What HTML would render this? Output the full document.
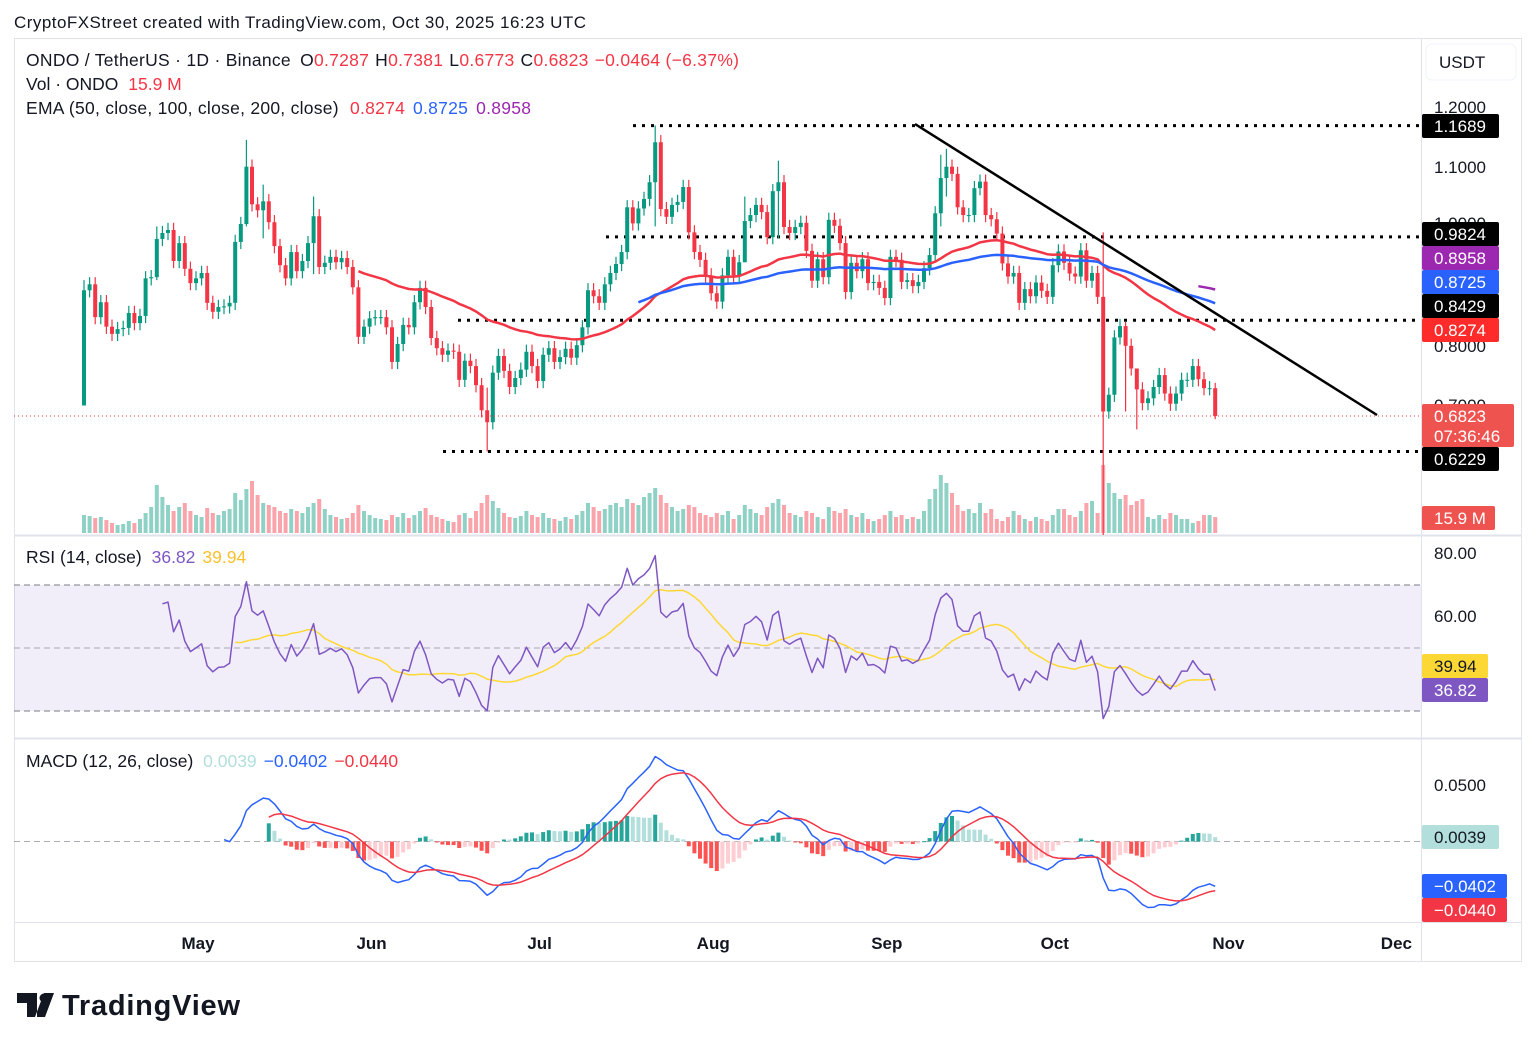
<!DOCTYPE html>
<html><head><meta charset="utf-8"><style>
html,body{margin:0;padding:0;background:#fff;}
body{width:1536px;height:1047px;overflow:hidden;font-family:"Liberation Sans",sans-serif;}
svg text{font-family:"Liberation Sans",sans-serif;}
</style></head><body>
<svg id="chart" width="1536" height="1047" viewBox="0 0 1536 1047" xmlns="http://www.w3.org/2000/svg">
<defs>
<clipPath id="cpPrice"><rect x="14" y="38" width="1407" height="497"/></clipPath>
<clipPath id="cpRsi"><rect x="14" y="535" width="1407" height="203"/></clipPath>
<clipPath id="cpMacd"><rect x="14" y="738" width="1407" height="184"/></clipPath>
</defs>
<text x="14" y="28" font-size="17" textLength="572" fill="#131722">CryptoFXStreet created with TradingView.com, Oct 30, 2025 16:23 UTC</text>
<rect x="14.5" y="38.5" width="1507" height="923" fill="#fff" stroke="#e0e3eb"/>
<line x1="1421.5" y1="38" x2="1421.5" y2="962" stroke="#e0e3eb"/>
<line x1="14" y1="535.5" x2="1522" y2="535.5" stroke="#e0e3eb" stroke-width="2"/>
<line x1="14" y1="738.5" x2="1522" y2="738.5" stroke="#e0e3eb" stroke-width="2"/>
<line x1="14" y1="922.5" x2="1522" y2="922.5" stroke="#e0e3eb"/>

<rect x="14" y="585" width="1407" height="126" fill="rgba(126,87,194,0.1)"/>
<line x1="14" y1="585" x2="1421" y2="585" stroke="#787b86" stroke-dasharray="6,4"/>
<line x1="14" y1="648" x2="1421" y2="648" stroke="#787b86" stroke-dasharray="6,4" opacity="0.6"/>
<line x1="14" y1="711" x2="1421" y2="711" stroke="#787b86" stroke-dasharray="6,4"/>
<line x1="14" y1="841.5" x2="1421" y2="841.5" stroke="#787b86" stroke-dasharray="6,4" opacity="0.6"/>

<g id="gVol" clip-path="url(#cpPrice)"></g>
<g id="gLevels"></g>
<g id="gCandles" clip-path="url(#cpPrice)"></g>
<g id="gEma" clip-path="url(#cpPrice)"></g>
<g id="gRsi" clip-path="url(#cpRsi)"></g>
<g id="gMacd" clip-path="url(#cpMacd)"></g>

<line x1="915" y1="124" x2="1377" y2="415" stroke="#000" stroke-width="2.5"/>
<line x1="14" y1="416" x2="1421" y2="416" stroke="#f23645" stroke-dasharray="1,3"/>

<text x="26" y="66" font-size="17.5" textLength="713" fill="#131722">ONDO / TetherUS · 1D · Binance <tspan dx="4">O</tspan><tspan fill="#f23645">0.7287</tspan><tspan dx="6">H</tspan><tspan fill="#f23645">0.7381</tspan><tspan dx="6">L</tspan><tspan fill="#f23645">0.6773</tspan><tspan dx="6">C</tspan><tspan fill="#f23645">0.6823</tspan><tspan dx="6" fill="#f23645">−0.0464 (−6.37%)</tspan></text>
<text x="26" y="90" font-size="17.5" fill="#131722">Vol · ONDO <tspan dx="5" fill="#f23645">15.9 M</tspan></text>
<text x="26" y="114" font-size="17.5" textLength="505" fill="#131722">EMA (50, close, 100, close, 200, close) <tspan dx="6" fill="#f23645">0.8274</tspan><tspan dx="8" fill="#2962ff">0.8725</tspan><tspan dx="8" fill="#9c27b0">0.8958</tspan></text>
<text x="26" y="563" font-size="17.5" fill="#131722">RSI (14, close) <tspan dx="5" fill="#7e57c2">36.82</tspan><tspan dx="7" fill="#fbc02d">39.94</tspan></text>
<text x="26" y="767" font-size="17.5" fill="#131722">MACD (12, 26, close) <tspan dx="5" fill="#b2dfdb">0.0039</tspan><tspan dx="7" fill="#2962ff">−0.0402</tspan><tspan dx="7" fill="#f23645">−0.0440</tspan></text>

<rect x="1426" y="44" width="90" height="36" rx="6" fill="#fff" stroke="#f0f3fa"/>
<text x="1439" y="68" font-size="17" fill="#131722">USDT</text>
<g font-size="17" fill="#131722">
<text x="1434" y="113">1.2000</text><text x="1434" y="173">1.1000</text><text x="1434" y="229">1.0000</text><text x="1434" y="352">0.8000</text><text x="1434" y="411">0.7000</text><text x="1434" y="530">0.6000</text>
<text x="1434" y="559">80.00</text><text x="1434" y="622">60.00</text><text x="1434" y="791">0.0500</text>
</g>
<g font-size="17" fill="#fff">
<rect x="1422" y="114" width="77" height="24" rx="2" fill="#000"/><text x="1434" y="132">1.1689</text>
<rect x="1422" y="222" width="77" height="24" rx="2" fill="#000"/><text x="1434" y="240">0.9824</text>
<rect x="1422" y="246" width="77" height="24" rx="2" fill="#9c27b0"/><text x="1434" y="264">0.8958</text>
<rect x="1422" y="270" width="77" height="24" rx="2" fill="#2962ff"/><text x="1434" y="288">0.8725</text>
<rect x="1422" y="294" width="77" height="24" rx="2" fill="#000"/><text x="1434" y="312">0.8429</text>
<rect x="1422" y="318" width="77" height="24" rx="2" fill="#ff2a2a"/><text x="1434" y="336">0.8274</text>
<rect x="1422" y="404" width="92" height="43" rx="2" fill="#ef5350"/><text x="1434" y="422">0.6823</text><text x="1434" y="442">07:36:46</text>
<rect x="1422" y="447" width="77" height="24" rx="2" fill="#000"/><text x="1434" y="465">0.6229</text>
<rect x="1422" y="506" width="73" height="24" rx="2" fill="#ef5350"/><text x="1434" y="524">15.9 M</text>
<rect x="1422" y="654" width="66" height="24" rx="2" fill="#fdd835"/><text x="1434" y="672" fill="#131722">39.94</text>
<rect x="1422" y="678" width="66" height="24" rx="2" fill="#7e57c2"/><text x="1434" y="696">36.82</text>
<rect x="1422" y="825" width="77" height="24" rx="2" fill="#b2dfdb"/><text x="1434" y="843" fill="#131722">0.0039</text>
<rect x="1422" y="874" width="85" height="24" rx="2" fill="#2962ff"/><text x="1434" y="892">−0.0402</text>
<rect x="1422" y="898" width="85" height="24" rx="2" fill="#f23645"/><text x="1434" y="916">−0.0440</text>
</g>
<g id="gTime" font-size="17" fill="#131722" font-weight="bold"></g>

<g>
<path d="M17 993h20v24h-10v-14h-10z M44 993l-9 24h10l9-24z" fill="#131722"/>
<circle cx="44" cy="998" r="4.5" fill="#131722"/>
<text x="62" y="1015" font-size="29" font-weight="bold" textLength="178" fill="#131722">TradingView</text>
</g>
</svg>
<script>
const closes=[0.893,0.903,0.848,0.873,0.832,0.82,0.828,0.83,0.855,0.838,0.85,0.913,0.915,0.979,0.989,0.994,0.942,0.972,0.929,0.905,
0.913,0.922,0.872,0.857,0.865,0.866,0.872,0.974,1.004,1.10,1.037,1.027,1.042,1.007,0.967,0.935,0.913,0.957,0.925,0.942,
0.972,1.017,0.932,0.939,0.949,0.94,0.947,0.932,0.898,0.815,0.832,0.846,0.848,0.848,0.831,0.773,0.803,0.835,0.831,0.873,
0.897,0.865,0.813,0.796,0.785,0.792,0.79,0.743,0.775,0.766,0.734,0.692,0.672,0.755,0.783,0.758,0.731,0.746,0.76,0.79,
0.766,0.741,0.785,0.796,0.773,0.781,0.795,0.78,0.801,0.831,0.893,0.883,0.872,0.903,0.922,0.937,0.957,1.032,1.005,1.03,
1.046,1.074,1.141,1.029,1.016,1.036,1.041,1.066,0.99,0.957,0.944,0.918,0.888,0.874,0.918,0.949,0.918,0.94,1.009,1.019,
1.036,1.024,0.982,1.059,1.074,0.999,0.989,0.999,1.006,0.959,0.909,0.945,0.915,1.011,1.001,0.972,0.89,0.939,0.925,0.945,
0.905,0.907,0.897,0.88,0.949,0.944,0.907,0.91,0.90,0.907,0.93,0.952,1.022,1.081,1.10,1.088,1.032,1.019,1.019,1.064,
1.075,1.019,1.012,0.988,0.938,0.916,0.922,0.872,0.895,0.883,0.906,0.892,0.882,0.935,0.958,0.939,0.921,0.916,0.96,0.909,
0.922,0.882,0.690,0.718,0.814,0.833,0.80,0.762,0.727,0.704,0.712,0.731,0.751,0.72,0.703,0.72,0.743,0.743,0.766,0.744,
0.729,0.729,0.6823];
const firstOpen=0.70;
const volumes=[18,17,15,16,13,10,8,9,12,10,14,20,26,48,36,28,22,26,30,22,
18,16,25,20,18,22,24,40,33,44,52,38,30,28,26,22,20,24,22,20,
26,30,34,24,18,16,14,15,20,28,22,18,15,14,13,18,16,20,15,18,
22,25,18,16,14,12,11,18,20,15,22,30,38,32,25,20,16,15,17,22,
18,16,20,15,14,12,16,14,18,22,30,26,22,24,28,30,26,34,30,28,
36,40,45,38,30,26,22,24,28,26,20,18,16,20,18,22,14,18,28,24,
20,18,26,30,34,28,20,18,16,22,20,16,14,26,22,20,24,18,16,20,
14,12,14,18,22,16,18,14,16,14,22,34,44,58,50,40,28,22,24,20,
30,20,24,14,12,16,22,18,14,12,16,14,12,18,24,24,18,16,22,30,
32,20,68,50,40,34,38,28,32,34,16,14,18,14,20,18,14,14,10,12,18,18,16];
const wickDays=[0,13,29,32,41,72,102,118,124,153,154,182,186,188,202];
const wickHighs=[0.91,1.00,1.145,1.07,1.05,0.73,1.169,1.05,1.11,1.12,1.13,0.99,0.84,0.76,0.738];
const wickLows=[0.70,0.91,1.00,0.98,0.92,0.6229,1.00,0.94,0.98,1.00,1.05,0.48,0.69,0.66,0.677];
const levelPrices=[1.1689,0.9824,0.8429,0.6229];
const levelStartX=[633,606,458,443];
const monthLabels=["May","Jun","Jul","Aug","Sep","Oct","Nov","Dec"];
const monthDays=[20,51,81,112,143,173,204,234];

const NS="http://www.w3.org/2000/svg";
const UP="#089981",DN="#f23645";
const xOf=d=>84+5.6*d;
const yP=p=>107+(1.2-p)*597;
const yR=v=>553+(80-v)*3.15;
const yM=v=>841.5-v*1128;
function mk(tag,attrs,parent){const e=document.createElementNS(NS,tag);for(const k in attrs)e.setAttribute(k,attrs[k]);parent.appendChild(e);return e;}
const gVol=document.getElementById('gVol'),gC=document.getElementById('gCandles'),gE=document.getElementById('gEma'),gR=document.getElementById('gRsi'),gM=document.getElementById('gMacd'),gL=document.getElementById('gLevels'),gT=document.getElementById('gTime');

levelPrices.forEach((p,i)=>{
  const l=mk('line',{x1:levelStartX[i],y1:yP(p),x2:1421,y2:yP(p),stroke:'#000','stroke-width':3,'stroke-dasharray':'3,6'},gL);
  
  
});

const opens=closes.map((c,i)=>i===0?firstOpen:closes[i-1]);
closes.forEach((c,i)=>{
  const o=opens[i];const up=c>=o;const col=up?UP:DN;const x=xOf(i);
  const wi=wickDays.indexOf(i);
  const hi=wi>=0?wickHighs[wi]:Math.max(o,c)+0.012;
  const lo=wi>=0?wickLows[wi]:Math.min(o,c)-0.012;
  const w=mk('line',{x1:x,x2:x,y1:yP(hi),y2:yP(lo),stroke:col,'stroke-width':1.2},gC);
  
  
  const yt=yP(Math.max(o,c)),yb=yP(Math.min(o,c));
  const b=mk('rect',{x:x-2,y:yt,width:4,height:Math.max(1,yb-yt),fill:col},gC);
  
  
  const v=volumes[i];
  const vb=mk('rect',{x:x-2,y:533-v,width:4,height:v,fill:up?'rgba(8,153,129,0.45)':'rgba(242,54,69,0.45)'},gVol);
  
  
});

function emaSeed(arr,n){const out=new Array(arr.length).fill(null);const a=2/(n+1);let start=arr.findIndex(v=>v!=null);if(start<0)return out;if(arr.length<start+n)return out;let s=0;for(let i=start;i<start+n;i++)s+=arr[i];let e=s/n;out[start+n-1]=e;for(let i=start+n;i<arr.length;i++){e=arr[i]*a+e*(1-a);out[i]=e;}return out;}
function poly(vals,yf,col,w,name,g){let d='';vals.forEach((v,i)=>{if(v==null)return;d+=(d?'L':'M')+xOf(i).toFixed(1)+' '+yf(v).toFixed(1);});
  const p=mk('path',{d:d,fill:'none',stroke:col,'stroke-width':w,'stroke-linejoin':'round'},g);
  
  }
poly(emaSeed(closes,50),yP,'#f23645',2.5,'ema-50-line',gE);
poly(emaSeed(closes,100),yP,'#2962ff',2.5,'ema-100-line',gE);
poly(emaSeed(closes,200),yP,'#9c27b0',2.5,'ema-200-line',gE);

const rsi=new Array(closes.length).fill(null);
{let ag=0,al=0;const n=14;for(let i=1;i<closes.length;i++){const ch=closes[i]-closes[i-1];const g=Math.max(ch,0),l=Math.max(-ch,0);
 if(i<=n){ag+=g/n;al+=l/n;if(i===n)rsi[i]=al===0?100:100-100/(1+ag/al);}else{ag=(ag*(n-1)+g)/n;al=(al*(n-1)+l)/n;rsi[i]=al===0?100:100-100/(1+ag/al);}}}
const rsiMa=rsi.map((v,i)=>{if(i<27)return null;let s=0;for(let k=i-13;k<=i;k++)s+=rsi[k];return s/14;});
poly(rsiMa,yR,'#fdd835',1.5,'rsi-ma-line',gR);
poly(rsi,yR,'#7e57c2',1.5,'rsi-line',gR);

const e12=emaSeed(closes,12),e26=emaSeed(closes,26);
const macd=closes.map((c,i)=>e26[i]==null?null:e12[i]-e26[i]);
const sig=emaSeed(macd,9);
sig.forEach((s,i)=>{if(s==null)return;const h=macd[i]-s;const prev=i>0&&sig[i-1]!=null?macd[i-1]-sig[i-1]:h;
 const col=h>=0?(h>=prev?'#26a69a':'#b2dfdb'):(h<prev?'#ff5252':'#ffcdd2');
 const y0=yM(0),y1=yM(h);
 const r=mk('rect',{x:xOf(i)-2,y:Math.min(y0,y1),width:4,height:Math.max(1,Math.abs(y1-y0)),fill:col},gM);
 
 });
poly(macd,yM,'#2962ff',1.5,'macd-line',gM);
poly(sig,yM,'#f23645',1.5,'signal-line',gM);

monthLabels.forEach((m,i)=>{const t=mk('text',{x:xOf(monthDays[i])+2,y:949,'text-anchor':'middle'},gT);t.textContent=m;
 
 });
</script>
</body></html>
